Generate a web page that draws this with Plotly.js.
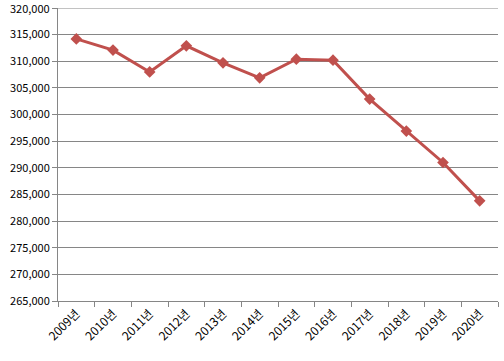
<!DOCTYPE html>
<html>
<head>
<meta charset="utf-8">
<script src="https://cdn.plot.ly/plotly-3.0.1.min.js"></script>
<style>html,body{margin:0;padding:0;background:#fff;}#chart{width:504px;height:361px;}</style>
</head>
<body>
<div id="chart"></div>
<script>
const years = ["2009년","2010년","2011년","2012년","2013년","2014년","2015년","2016년","2017년","2018년","2019년","2020년"];
const values = [314200, 312100, 308000, 312900, 309700, 306900, 310400, 310200, 302900, 296900, 291000, 283800];
const yTicks = [265000, 270000, 275000, 280000, 285000, 290000, 295000, 300000, 305000, 310000, 315000, 320000];
const yTickText = ["265,000","270,000","275,000","280,000","285,000","290,000","295,000","300,000","305,000","310,000","315,000","320,000"];

const trace = {
  x: years, y: values, type: "scatter", mode: "lines+markers",
  line: {color: "#C0504D", width: 3},
  marker: {symbol: "diamond", size: 9, color: "#C0504D"},
  hoverinfo: "none"
};
const plotW = 504 - 58 - 6;
const layout = {
  width: 504, height: 361,
  margin: {l: 58, r: 6, t: 8, b: 60},
  paper_bgcolor: "#fff", plot_bgcolor: "#fff",
  showlegend: false,
  font: {family: "'Noto Sans CJK KR', 'DejaVu Sans', sans-serif", size: 11, color: "#000"},
  xaxis: {
    type: "category", tickson: "boundaries", ticks: "outside", ticklen: 5, tickcolor: "#868686",
    showline: true, linecolor: "#868686", linewidth: 1, showgrid: false, zeroline: false,
    tickangle: -45, range: [-0.5, 11.5], fixedrange: true,
    tickfont: {size: 12, color: "#000"}
  },
  yaxis: {
    range: [265000, 320000], tickmode: "array", tickvals: yTicks, ticktext: yTickText,
    showline: true, linecolor: "#868686", linewidth: 1, mirror: false,
    showgrid: true, gridcolor: "#868686", gridwidth: 1, zeroline: false,
    ticks: "outside", ticklen: 5, tickcolor: "#868686",
    tickfont: {size: 11, color: "#000"}, fixedrange: true
  },
  shapes: [{type: "line", xref: "paper", yref: "y", x0: -5 / plotW, x1: 1, y0: yTicks[yTicks.length-1], y1: yTicks[yTicks.length-1], line: {color: "#868686", width: 1}}],
  annotations: [{xref: "paper", yref: "y", x: 0, y: yTicks[yTicks.length-1], xanchor: "right", xshift: -6, yanchor: "middle", showarrow: false, text: yTickText[yTickText.length-1], font: {size: 11, color: "#000"}}]
};
Plotly.newPlot("chart", [trace], layout, {displayModeBar: false, staticPlot: true});
</script>
</body>
</html>
